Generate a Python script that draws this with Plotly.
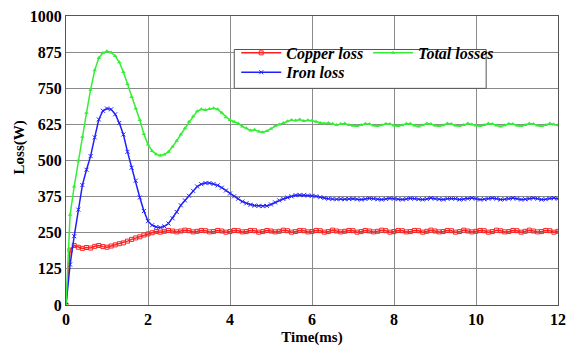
import plotly.graph_objects as go

time_ms = [
    0.0, 0.1, 0.2, 0.3, 0.4, 0.5, 0.6, 0.7, 0.8, 0.9,
    1.0, 1.1, 1.2, 1.3, 1.4, 1.5, 1.6, 1.7, 1.8, 1.9,
    2.0, 2.1, 2.2, 2.3, 2.4, 2.5, 2.6, 2.7, 2.8, 2.9,
    3.0, 3.1, 3.2, 3.3, 3.4, 3.5, 3.6, 3.7, 3.8, 3.9,
    4.0, 4.1, 4.2, 4.3, 4.4, 4.5, 4.6, 4.7, 4.8, 4.9,
    5.0, 5.1, 5.2, 5.3, 5.4, 5.5, 5.6, 5.7, 5.8, 5.9,
    6.0, 6.1, 6.2, 6.3, 6.4, 6.5, 6.6, 6.7, 6.8, 6.9,
    7.0, 7.1, 7.2, 7.3, 7.4, 7.5, 7.6, 7.7, 7.8, 7.9,
    8.0, 8.1, 8.2, 8.3, 8.4, 8.5, 8.6, 8.7, 8.8, 8.9,
    9.0, 9.1, 9.2, 9.3, 9.4, 9.5, 9.6, 9.7, 9.8, 9.9,
    10.0, 10.1, 10.2, 10.3, 10.4, 10.5, 10.6, 10.7, 10.8, 10.9,
    11.0, 11.1, 11.2, 11.3, 11.4, 11.5, 11.6, 11.7, 11.8, 11.9,
    12.0,
]

copper_loss = [
    0, 190, 206, 200, 196, 199, 197, 203, 206, 202,
    200, 204, 208, 212, 215, 221, 227, 232, 236, 242,
    246, 250, 254, 252, 255, 258, 256, 253, 256, 259,
    257, 253, 255, 258, 257, 253, 254, 258, 256, 252,
    254, 258, 257, 253, 254, 258, 257, 252, 254, 258,
    256, 253, 255, 259, 257, 252, 254, 258, 257, 253,
    254, 258, 257, 252, 254, 259, 256, 253, 255, 258,
    257, 252, 254, 258, 256, 253, 255, 259, 257, 252,
    254, 258, 257, 253, 254, 258, 257, 252, 255, 259,
    256, 253, 254, 258, 257, 252, 254, 259, 256, 253,
    255, 258, 257, 252, 254, 259, 257, 253, 254, 258,
    257, 252, 255, 259, 256, 253, 254, 258, 257, 252,
    255,
]

iron_loss = [
    0, 140, 238, 330, 415, 468, 515, 580, 642, 672,
    680, 677, 660, 630, 590, 530, 475, 430, 372, 325,
    290, 276, 270, 268, 272, 282, 300, 322, 345, 362,
    378, 395, 410, 418, 422, 422, 419, 414, 406, 396,
    386, 376, 368, 358, 352, 347, 344, 343, 342, 343,
    348, 355, 362, 367, 372, 376, 380, 381, 380, 379,
    378, 376, 373, 370, 368, 367, 366, 367, 366, 367,
    368, 366, 365, 367, 369, 368, 366, 365, 367, 369,
    368, 366, 365, 367, 369, 368, 366, 365, 367, 370,
    368, 366, 365, 368, 369, 368, 365, 366, 368, 370,
    368, 365, 366, 368, 370, 368, 365, 366, 368, 370,
    368, 365, 366, 368, 370, 368, 365, 366, 369, 370,
    368,
]

total_losses = [
    0, 312, 410, 500, 582, 665, 745, 812, 855, 872,
    878, 874, 862, 840, 806, 765, 720, 680, 640, 592,
    555, 533, 522, 517, 521, 530, 548, 568, 590, 612,
    634, 652, 670, 677, 675, 678, 681, 677, 665, 650,
    640, 634, 628, 618, 612, 604, 606, 600, 598, 602,
    610, 619, 625, 630, 636, 640, 638, 642, 637, 639,
    638, 634, 630, 628, 630, 627, 623, 626, 628, 623,
    620, 619, 623, 627, 626, 621, 619, 622, 627, 626,
    621, 619, 622, 627, 627, 621, 618, 622, 628, 626,
    621, 619, 622, 628, 626, 621, 619, 623, 628, 625,
    621, 619, 623, 628, 626, 621, 618, 622, 627, 626,
    621, 619, 623, 628, 626, 621, 619, 623, 628, 625,
    622,
]

x_ticks = [0, 2, 4, 6, 8, 10, 12]
y_ticks = [0, 125, 250, 375, 500, 625, 750, 875, 1000]

SERIF = "Liberation Serif"

fig = go.Figure()
fig.add_trace(go.Scatter(
    x=time_ms, y=copper_loss, name="Copper loss", mode="lines+markers",
    line=dict(color="#ff2020", width=1.5),
    marker=dict(symbol="square-open", size=4, color="#ff2020", line=dict(width=1)),
    legend="legend",
))
fig.add_trace(go.Scatter(
    x=time_ms, y=iron_loss, name="Iron loss", mode="lines+markers",
    line=dict(color="#2020ff", width=1.5),
    marker=dict(symbol="x-thin-open", size=4, color="#2020ff", line=dict(width=1)),
    legend="legend3",
))
fig.add_trace(go.Scatter(
    x=time_ms, y=total_losses, name="Total losses", mode="lines+markers",
    line=dict(color="#33ee33", width=1.5),
    marker=dict(symbol="triangle-up", size=4, color="#33ee33"),
    legend="legend2",
))

pl, pr, pt, pb = 66, 566, 7.5, 305
W, H = 574, 352

def px_x(v):
    return (v - pl) / (pr - pl)

def px_y(v):
    return (pb - v) / (pb - pt)

legend_font = dict(family=SERIF, size=16, color="black", weight="bold", style="italic")

fig.add_shape(
    type="rect", xref="paper", yref="paper",
    x0=px_x(237), x1=px_x(493), y0=px_y(82), y1=px_y(42),
    fillcolor="white", line=dict(color="#555555", width=1), layer="above",
)

def legend_at(xp, yp):
    return dict(
        x=px_x(xp), y=px_y(yp), xanchor="left", yanchor="top",
        bgcolor="rgba(0,0,0,0)", borderwidth=0, font=legend_font,
        itemwidth=40,
    )

fig.add_annotation(
    text="Loss(W)", xref="paper", yref="paper",
    x=px_x(19), y=px_y(143), xanchor="center", yanchor="middle",
    textangle=-90, showarrow=False,
    font=dict(family=SERIF, size=15, color="black", weight="bold"),
)

fig.update_layout(
    width=W, height=H,
    margin=dict(l=pl, r=W - pr, t=pt, b=H - pb),
    paper_bgcolor="white", plot_bgcolor="white",
    showlegend=True,
    legend=legend_at(239, 28),
    legend2=legend_at(373, 28),
    legend3=legend_at(239, 48),
    xaxis=dict(
        range=[0, 12], tickvals=x_ticks, ticktext=[str(v) for v in x_ticks],
        showgrid=True, gridcolor="#8a8a8a", gridwidth=1,
        showline=True, linecolor="#555555", linewidth=1, mirror=True,
        zeroline=False, ticks="",
        tickfont=dict(family=SERIF, size=16, color="black", weight="bold"),
        title=dict(text="Time(ms)", standoff=4,
                   font=dict(family=SERIF, size=15, color="black", weight="bold")),
    ),
    yaxis=dict(
        range=[0, 1000], tickvals=y_ticks, ticktext=[str(v) for v in y_ticks],
        showgrid=True, gridcolor="#8a8a8a", gridwidth=1,
        showline=True, linecolor="#555555", linewidth=1, mirror=True,
        zeroline=False, ticks="",
        tickfont=dict(family=SERIF, size=16, color="black", weight="bold"),
    ),
)

fig.write_html("out.html")
